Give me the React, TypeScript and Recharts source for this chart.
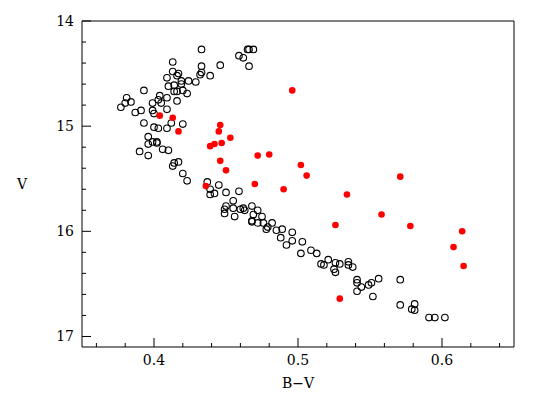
import React from 'react';
import { ScatterChart, Scatter, XAxis, YAxis, Label } from 'recharts';

// open circles (B-V, V)
const openBV = [
  0.433, 0.465, 0.466, 0.469, 0.459, 0.462, 0.466, 0.413, 0.433, 0.446,
  0.433, 0.432, 0.439, 0.413, 0.417, 0.416, 0.409, 0.419, 0.424, 0.429,
  0.410, 0.414, 0.419, 0.414, 0.416, 0.420, 0.423, 0.393, 0.404, 0.409,
  0.403, 0.399, 0.405, 0.416, 0.381, 0.384, 0.380, 0.377, 0.391, 0.387,
  0.399, 0.400, 0.409, 0.393, 0.400, 0.403, 0.409, 0.412, 0.420,
  0.396, 0.396, 0.399, 0.402, 0.402, 0.390, 0.396, 0.406, 0.410, 0.417,
  0.414, 0.413, 0.420, 0.423, 0.437, 0.439, 0.439, 0.442, 0.445, 0.450,
  0.459, 0.455,
  0.450, 0.449, 0.449, 0.455, 0.456, 0.460, 0.462, 0.463, 0.468, 0.472,
  0.469, 0.475, 0.468, 0.468, 0.472, 0.476, 0.479, 0.478, 0.482, 0.485,
  0.489, 0.488, 0.496, 0.496, 0.492, 0.503, 0.502, 0.509, 0.513, 0.516,
  0.521,
  0.518, 0.526, 0.529, 0.525, 0.526, 0.535, 0.535, 0.538, 0.541, 0.541,
  0.544, 0.541, 0.549, 0.551, 0.556, 0.552, 0.571, 0.571, 0.579, 0.581,
  0.581, 0.591, 0.595, 0.602,
];
const openV = [
  14.27, 14.27, 14.27, 14.27, 14.33, 14.35, 14.43, 14.39, 14.43, 14.42,
  14.49, 14.51, 14.52, 14.48, 14.50, 14.52, 14.54, 14.57, 14.57, 14.58,
  14.62, 14.61, 14.60, 14.67, 14.67, 14.66, 14.69, 14.66, 14.71, 14.73,
  14.75, 14.78, 14.78, 14.76, 14.73, 14.77, 14.78, 14.82, 14.85, 14.87,
  14.85, 14.88, 14.84, 14.97, 15.01, 15.02, 15.02, 14.97, 14.98,
  15.10, 15.17, 15.15, 15.15, 15.16, 15.24, 15.28, 15.22, 15.23, 15.34,
  15.35, 15.38, 15.45, 15.52, 15.53, 15.60, 15.65, 15.64, 15.56, 15.63,
  15.62, 15.71,
  15.76, 15.79, 15.83, 15.78, 15.86, 15.79, 15.78, 15.80, 15.76, 15.80,
  15.84, 15.86, 15.90, 15.91, 15.92, 15.92, 15.96, 15.98, 15.92, 15.99,
  15.98, 16.06, 16.01, 16.09, 16.13, 16.10, 16.21, 16.18, 16.21, 16.31,
  16.27,
  16.32, 16.30, 16.31, 16.36, 16.39, 16.29, 16.32, 16.34, 16.46, 16.49,
  16.53, 16.57, 16.51, 16.49, 16.45, 16.62, 16.46, 16.70, 16.74, 16.69,
  16.75, 16.82, 16.82, 16.82,
];

// filled red points
const redBV = [
  0.404, 0.413, 0.417, 0.446, 0.445, 0.453, 0.439, 0.442, 0.447, 0.472,
  0.480, 0.446, 0.450, 0.470, 0.436, 0.496, 0.502, 0.506, 0.490, 0.534,
  0.571, 0.558, 0.526, 0.578, 0.614, 0.608, 0.615, 0.529,
];
const redV = [
  14.90, 14.92, 15.05, 14.99, 15.05, 15.11, 15.19, 15.17, 15.16, 15.28,
  15.27, 15.33, 15.42, 15.55, 15.57, 14.66, 15.37, 15.47, 15.60, 15.65,
  15.48, 15.84, 15.94, 15.95, 16.00, 16.15, 16.33, 16.64,
];

const xTicks = [0.36, 0.38, 0.4, 0.42, 0.44, 0.46, 0.48, 0.5, 0.52, 0.54, 0.56, 0.58, 0.6, 0.62, 0.64];
const yTicks = [
  14, 14.2, 14.4, 14.6, 14.8, 15, 15.2, 15.4, 15.6, 15.8, 16,
  16.2, 16.4, 16.6, 16.8, 17,
];

const openData = openBV.map((bv, i) => ({ bv, v: openV[i] }));
const redData = redBV.map((bv, i) => ({ bv, v: redV[i] }));

const FONT = 'DejaVu Serif';
const MAJOR = 9;
const MINOR = 4;

const isMajorX = (v: number) => Math.abs(v * 10 - Math.round(v * 10)) < 1e-6;
const isMajorY = (v: number) => Math.abs(v - Math.round(v)) < 1e-6;

const BottomTick = ({ x, y, payload }: any) => {
  const major = isMajorX(payload.value);
  return (
    <g>
      <line x1={x} x2={x} y1={y} y2={y - (major ? MAJOR : MINOR)} stroke="#000" />
      {major && (
        <text x={x} y={y + 18} textAnchor="middle" fontFamily={FONT} fontSize={14} fill="#000">
          {payload.value.toFixed(1)}
        </text>
      )}
    </g>
  );
};

const TopTick = ({ x, y, payload }: any) => {
  const major = isMajorX(payload.value);
  return <line x1={x} x2={x} y1={y} y2={y + (major ? MAJOR : MINOR)} stroke="#000" />;
};

const LeftTick = ({ x, y, payload }: any) => {
  const major = isMajorY(payload.value);
  return (
    <g>
      <line x1={x} x2={x + (major ? MAJOR : MINOR)} y1={y} y2={y} stroke="#000" />
      {major && (
        <text x={x - 8} y={y + 5} textAnchor="end" fontFamily={FONT} fontSize={14} fill="#000">
          {Math.round(payload.value)}
        </text>
      )}
    </g>
  );
};

const RightTick = ({ x, y, payload }: any) => {
  const major = isMajorY(payload.value);
  return <line x1={x} x2={x - (major ? MAJOR : MINOR)} y1={y} y2={y} stroke="#000" />;
};

const OpenDot = ({ cx, cy }: any) => (
  <circle cx={cx} cy={cy} r={3.3} fill="none" stroke="#000" strokeWidth={1.1} />
);

const RedDot = ({ cx, cy }: any) => <circle cx={cx} cy={cy} r={3.3} fill="#ff0000" />;

export default function App() {
  return (
    <div style={{ position: 'absolute', left: 0, top: 0, background: '#fff' }}>
      <ScatterChart width={541} height={409} margin={{ top: 20, right: 17, bottom: 22, left: 0 }}>
        <XAxis
          xAxisId="b"
          dataKey="bv"
          type="number"
          domain={[0.35, 0.65]}
          ticks={xTicks}
          interval={0}
          height={40}
          tickSize={0}
          tickMargin={0}
          tickLine={false}
          axisLine={{ stroke: '#000' }}
          tick={BottomTick}
        >
          <Label
            content={({ viewBox }: any) => (
              <text
                x={viewBox.x + viewBox.width / 2}
                y={viewBox.y + 41}
                textAnchor="middle"
                fontFamily={FONT}
                fontSize={14}
                fill="#000"
              >
                B−V
              </text>
            )}
          />
        </XAxis>
        <XAxis
          xAxisId="t"
          orientation="top"
          type="number"
          domain={[0.35, 0.65]}
          ticks={xTicks}
          interval={0}
          height={1}
          tickSize={0}
          tickMargin={0}
          tickLine={false}
          axisLine={{ stroke: '#000' }}
          tick={TopTick}
        />
        <YAxis
          yAxisId="l"
          dataKey="v"
          type="number"
          reversed
          domain={[14, 17.1]}
          ticks={yTicks}
          interval={0}
          width={82}
          tickSize={0}
          tickMargin={0}
          tickLine={false}
          axisLine={{ stroke: '#000' }}
          tick={LeftTick}
        >
          <Label
            content={({ viewBox }: any) => (
              <text
                x={22}
                y={viewBox.y + viewBox.height / 2 + 5}
                textAnchor="middle"
                fontFamily={FONT}
                fontSize={14}
                fill="#000"
              >
                V
              </text>
            )}
          />
        </YAxis>
        <YAxis
          yAxisId="r"
          orientation="right"
          type="number"
          reversed
          domain={[14, 17.1]}
          ticks={yTicks}
          interval={0}
          width={10}
          tickSize={0}
          tickMargin={0}
          tickLine={false}
          axisLine={{ stroke: '#000' }}
          tick={RightTick}
        />
        <Scatter
          xAxisId="b"
          yAxisId="l"
          data={openData}
          shape={OpenDot}
          isAnimationActive={false}
        />
        <Scatter
          xAxisId="b"
          yAxisId="l"
          data={redData}
          shape={RedDot}
          isAnimationActive={false}
        />
      </ScatterChart>
    </div>
  );
}
